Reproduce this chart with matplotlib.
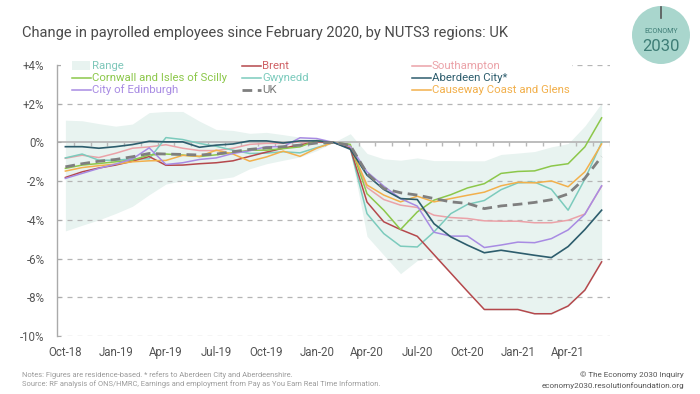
import matplotlib
matplotlib.use('Agg')
import matplotlib.pyplot as plt
import numpy as np
from matplotlib.lines import Line2D
from matplotlib.patches import Rectangle, Circle

plt.rcParams['font.family'] = ['Roboto', 'DejaVu Sans']

# months Oct-18 .. Jun-21
months = ['Oct-18', 'Nov-18', 'Dec-18', 'Jan-19', 'Feb-19', 'Mar-19', 'Apr-19', 'May-19', 'Jun-19',
          'Jul-19', 'Aug-19', 'Sep-19', 'Oct-19', 'Nov-19', 'Dec-19', 'Jan-20', 'Feb-20', 'Mar-20',
          'Apr-20', 'May-20', 'Jun-20', 'Jul-20', 'Aug-20', 'Sep-20', 'Oct-20', 'Nov-20', 'Dec-20',
          'Jan-21', 'Feb-21', 'Mar-21', 'Apr-21', 'May-21', 'Jun-21']
tick_labels = ['Oct-18', 'Jan-19', 'Apr-19', 'Jul-19', 'Oct-19', 'Jan-20', 'Apr-20', 'Jul-20',
               'Oct-20', 'Jan-21', 'Apr-21']

range_max = [1.15, 1.12, 0.97, 0.84, 0.95, 1.54, 1.6, 1.6, 1.1, 0.67, 0.62, 0.47, 0.52, 0.4, 0.27, 0.2, 0.0,
             0.45, -0.57, -0.85, -0.92, -0.8, -0.94, -0.94, -0.95, -0.95, -0.62, -0.55, -0.47, -0.23, -0.06, 0.85, 2.03]
range_min = [-4.57, -4.28, -4.0, -3.67, -3.3, -2.7, -2.15, -1.97, -1.95, -1.9, -1.78, -1.36, -1.1, -0.92, -0.75, -0.42, 0.0,
             -0.4, -4.85, -5.82, -6.78, -6.1, -5.9, -6.8, -7.72, -8.66, -8.66, -8.66, -8.88, -8.88, -8.48, -7.66, -6.2]

brent = [-1.81, -1.52, -1.32, -1.17, -0.97, -0.73, -1.18, -1.17, -1.1, -1.05, -0.95, -0.72, -0.5, -0.3, -0.12, 0.03, 0.0,
         -0.3, -3.08, -4.1, -4.5, -4.85, -5.8, -6.75, -7.7, -8.63, -8.63, -8.63, -8.85, -8.85, -8.45, -7.63, -6.17]
southampton = [-0.82, -0.66, -0.78, -0.56, -0.3, -0.23, -0.12, -0.3, -0.42, -0.42, -0.3, -0.1, -0.05, -0.05, 0.03, 0.05, 0.0,
               -0.2, -2.33, -2.95, -3.24, -3.36, -3.76, -3.88, -3.93, -4.05, -4.07, -4.07, -4.15, -4.15, -4.02, -3.7, -2.26]
cornwall = [-1.34, -1.17, -1.09, -1.0, -0.91, -0.65, -0.6, -0.65, -0.73, -0.64, -0.53, -0.4, -0.4, -0.32, -0.23, 0.1, 0.0,
            -0.1, -2.65, -3.5, -4.5, -3.59, -2.98, -2.7, -2.35, -2.13, -1.6, -1.5, -1.47, -1.22, -1.1, -0.23, 1.27]
gwynedd = [-0.8, -0.6, -0.92, -0.92, -0.85, -0.85, 0.25, 0.15, -0.05, -0.2, -0.4, -0.57, -0.55, -0.48, -0.54, -0.27, 0.0,
           -0.3, -3.68, -4.71, -5.36, -5.4, -4.62, -3.68, -3.2, -3.0, -2.44, -2.09, -2.05, -2.42, -3.5, -1.9, 0.0]
aberdeen = [-0.22, -0.22, -0.3, -0.22, -0.11, 0.06, 0.03, 0.03, -0.25, -0.14, -0.08, 0.08, 0.08, -0.03, 0.08, 0.08, 0.0,
            -0.35, -1.69, -2.43, -2.9, -2.95, -4.2, -4.88, -5.31, -5.7, -5.57, -5.7, -5.83, -5.95, -5.38, -4.5, -3.5]
causeway = [-1.48, -1.3, -1.2, -1.12, -1.0, -0.95, -0.93, -0.67, -0.72, -0.4, -0.6, -0.97, -0.75, -0.45, -0.72, -0.3, 0.0,
            -0.2, -2.2, -2.72, -3.07, -2.78, -3.07, -2.9, -2.73, -2.57, -2.24, -2.06, -2.09, -1.99, -2.29, -1.52, -0.08]
edinburgh = [-1.86, -1.6, -1.34, -1.12, -0.85, -0.28, -1.14, -1.05, -0.88, -0.8, -0.57, -0.43, -0.22, -0.22, 0.24, 0.2, 0.0,
             -0.2, -1.52, -2.26, -2.9, -3.29, -4.64, -4.84, -4.84, -5.43, -5.3, -5.15, -5.18, -4.97, -4.52, -3.71, -2.24]
uk = [-1.26, -1.1, -0.97, -0.88, -0.74, -0.57, -0.6, -0.62, -0.65, -0.6, -0.48, -0.36, -0.28, -0.22, -0.14, -0.03, 0.0,
      -0.15, -1.6, -2.38, -2.6, -2.72, -2.9, -3.07, -3.15, -3.42, -3.28, -3.2, -3.1, -2.96, -2.66, -1.85, -0.73]

c_range = '#e8f3f0'
c_brent = '#b5484c'
c_south = '#eba2a8'
c_corn = '#8cc74a'
c_gwyn = '#7ccbbd'
c_aber = '#2d5d6d'
c_caus = '#f2b04c'
c_edin = '#a88be3'
c_uk = '#7f7f7f'

W, H = 700, 394
fig = plt.figure(figsize=(W / 100, H / 100), dpi=100)
ax = fig.add_axes([57 / W, 1 - 336 / H, 553 / W, 271 / H])

x = np.arange(len(months))
ax.fill_between(x, range_min, range_max, color=c_range, lw=0, zorder=0)

for v in [4, 2, -2, -4, -6, -8, -10]:
    ax.axhline(v, color='#b5b5b5', lw=0.9, ls=(0, (4, 4)), zorder=1)
ax.axhline(0, color='#b8b8b8', lw=1.3, zorder=1)
ax.vlines(x + 0.5, -0.17, 0, color='#b8b8b8', lw=1.0, zorder=1)

ax.plot(x, southampton, color=c_south, lw=1.1, zorder=3)
ax.plot(x, gwynedd, color=c_gwyn, lw=1.1, zorder=3)
ax.plot(x, brent, color=c_brent, lw=1.1, zorder=3)
ax.plot(x, cornwall, color=c_corn, lw=1.1, zorder=3)
ax.plot(x, causeway, color=c_caus, lw=1.1, zorder=3)
ax.plot(x, edinburgh, color=c_edin, lw=1.1, zorder=3)
ax.plot(x, aberdeen, color=c_aber, lw=1.2, zorder=3)
ax.plot(x, uk, color=c_uk, lw=2.0, dashes=(3.5, 2), zorder=4)

ax.set_xlim(-0.5, len(months) - 0.5)
ax.set_ylim(-10, 4)
ax.set_xticks([months.index(m) for m in tick_labels])
ax.set_xticklabels(tick_labels)
yt = [4, 2, 0, -2, -4, -6, -8, -10]
ax.set_yticks(yt)
ax.set_yticklabels([('+%d%%' % v) if v > 0 else ('%d%%' % v) for v in yt])
ax.tick_params(axis='x', length=0, pad=7, labelsize=8.3, labelcolor='#555555')
ax.tick_params(axis='y', direction='in', length=3, color='#aaaaaa', pad=9, labelsize=8.3, labelcolor='#555555')
for s in ['top', 'right', 'bottom']:
    ax.spines[s].set_visible(False)
ax.spines['left'].set_color('#aaaaaa')
ax.spines['left'].set_linewidth(1.0)

# white box behind the legend
fig.add_artist(Rectangle((61 / W, 1 - 97 / H), (572 - 61) / W, 38 / H, transform=fig.transFigure,
                         facecolor='white', edgecolor='none', zorder=2))

# legend, three columns
legend_items = [
    ('Range', c_range, '#7fc7ba', 'patch', 0, 0),
    ('Cornwall and Isles of Scilly', c_corn, c_corn, 'line', 0, 1),
    ('City of Edinburgh', c_edin, c_edin, 'line', 0, 2),
    ('Brent', c_brent, '#cf6266', 'line', 1, 0),
    ('Gwynedd', c_gwyn, c_gwyn, 'line', 1, 1),
    ('UK', c_uk, '#777777', 'dash', 1, 2),
    ('Southampton', c_south, c_south, 'line', 2, 0),
    ('Aberdeen City*', c_aber, c_aber, 'line', 2, 1),
    ('Causeway Coast and Glens', c_caus, c_caus, 'line', 2, 2),
]
col_x = [72, 242, 412]
row_y = [66, 78, 90]
for label, hc, tc, kind, ci, ri in legend_items:
    x0 = col_x[ci]
    y0 = 1 - row_y[ri] / H
    if kind == 'patch':
        fig.add_artist(Rectangle((x0 / W, y0 - 4.5 / H), 18 / W, 9 / H, transform=fig.transFigure,
                                 facecolor=hc, edgecolor='none', zorder=3))
    elif kind == 'dash':
        fig.add_artist(Line2D([x0 / W, (x0 + 19) / W], [y0, y0], transform=fig.transFigure,
                              color=hc, lw=2.0, dashes=(3.5, 2), zorder=3))
    else:
        fig.add_artist(Line2D([x0 / W, (x0 + 19) / W], [y0, y0], transform=fig.transFigure,
                              color=hc, lw=1.1, zorder=3))
    fig.text((x0 + 20) / W, y0, label, color=tc, fontsize=8.2, va='center', ha='left', zorder=3)

# title
fig.text(22 / W, 1 - 33 / H, 'Change in payrolled employees since February 2020, by NUTS3 regions: UK',
         fontsize=10.5, color='#4a4a4a', va='center', ha='left')

# logo
lax = fig.add_axes([(661 - 29) / W, 1 - (35 + 29) / H, 58 / W, 58 / H])
lax.set_xlim(-1, 1)
lax.set_ylim(-1, 1)
lax.axis('off')
lax.add_patch(Circle((0, 0), 1, facecolor='#a9d6cd', edgecolor='none'))
lax.plot([0, 0], [0.97, 0.6], color='#555555', lw=1.2)
lax.text(0, 0.12, 'ECONOMY', fontsize=5, color='#3e7d76', ha='center', va='center')
lax.text(0, -0.38, '2030', fontsize=12, color='#3e7d76', ha='center', va='center')

# footer
fig.text(22 / W, 1 - 375 / H, 'Notes: Figures are residence-based. * refers to Aberdeen City and Aberdeenshire.',
         fontsize=5.4, color='#9a9a9a', va='center', ha='left')
fig.text(22 / W, 1 - 384 / H, 'Source: RF analysis of ONS/HMRC, Earnings and employment from Pay as You Earn Real Time Information.',
         fontsize=5.4, color='#9a9a9a', va='center', ha='left')
fig.text(684 / W, 1 - 375 / H, '\u00a9 The Economy 2030 Inquiry', fontsize=5.9, color='#555555', va='center', ha='right')
fig.text(684 / W, 1 - 386 / H, 'economy2030.resolutionfoundation.org', fontsize=5.9, color='#555555', va='center', ha='right')

fig.savefig('out.png', dpi=100)
